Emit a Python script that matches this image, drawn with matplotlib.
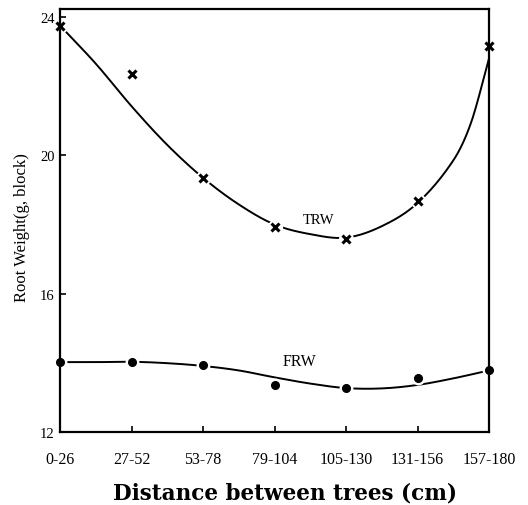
import numpy as np
import matplotlib
matplotlib.use("Agg")
import matplotlib.pyplot as plt

# ---- data ----
categories = ["0-26", "27-52", "53-78", "79-104", "105-130", "131-156", "157-180"]
trw_values = [23.75, 22.35, 19.35, 17.93, 17.58, 18.68, 23.16]
frw_values = [14.02, 14.02, 13.94, 13.36, 13.27, 13.56, 13.79]

# fitted curves as drawn in the picture (knots along the category axis)
trw_curve_pos = [0, 0.5, 1, 1.5, 2, 2.5, 3, 3.5, 4, 4.5, 5, 5.5, 5.75, 6]
trw_curve_val = [23.75, 22.65, 21.42, 20.3, 19.35, 18.58, 18.0, 17.72, 17.62, 17.95, 18.62, 19.85, 20.95, 22.8]
frw_curve_pos = [0, 0.5, 1, 1.5, 2, 2.5, 3, 3.5, 4, 4.5, 5, 5.5, 6]
frw_curve_val = [14.02, 14.02, 14.03, 13.99, 13.91, 13.78, 13.58, 13.40, 13.27, 13.26, 13.36, 13.55, 13.78]

yticks = [12, 16, 20, 24]


def smooth(xs, ys, n=20):
    xs = np.asarray(xs, float)
    ys = np.asarray(ys, float)
    # Hermite spline with Catmull-Rom style tangents (non-uniform)
    m = np.zeros_like(ys)
    m[1:-1] = (ys[2:] - ys[:-2]) / (xs[2:] - xs[:-2])
    m[0] = (ys[1] - ys[0]) / (xs[1] - xs[0])
    m[-1] = (ys[-1] - ys[-2]) / (xs[-1] - xs[-2])
    ox, oy = [], []
    for i in range(len(xs) - 1):
        h = xs[i + 1] - xs[i]
        t = np.linspace(0, 1, n, endpoint=False)
        h00 = 2 * t**3 - 3 * t**2 + 1
        h10 = t**3 - 2 * t**2 + t
        h01 = -2 * t**3 + 3 * t**2
        h11 = t**3 - t**2
        ox.extend(xs[i] + t * h)
        oy.extend(h00 * ys[i] + h10 * h * m[i] + h01 * ys[i + 1] + h11 * h * m[i + 1])
    ox.append(xs[-1])
    oy.append(ys[-1])
    return np.array(ox), np.array(oy)


fig = plt.figure(figsize=(5.28, 5.06), dpi=100)
ax = fig.add_axes([60 / 528, 1 - 433 / 506, 429 / 528, 423 / 506])

serif = "Liberation Serif"
x = np.arange(len(categories))

cx, cy = smooth(trw_curve_pos, trw_curve_val)
ax.plot(cx, cy, color="black", lw=1.4, zorder=2, clip_on=False)
cx, cy = smooth(frw_curve_pos, frw_curve_val)
ax.plot(cx, cy, color="black", lw=1.4, zorder=2, clip_on=False)

# white halo behind markers (gaps in the drawn curves)
ax.plot(x, trw_values, ls="none", marker="o", ms=11, mfc="white", mec="none", zorder=2.2, clip_on=False)
ax.plot(x, frw_values, ls="none", marker="o", ms=10, mfc="white", mec="none", zorder=2.2, clip_on=False)
ax.plot(x, trw_values, ls="none", marker="x", ms=6, mew=2.2, color="black", zorder=4, clip_on=False)
ax.plot(x, frw_values, ls="none", marker="o", ms=5.5, color="black", zorder=4, clip_on=False)

ax.text(3.62, 18.13, "TRW", family=serif, fontsize=10.5, ha="center", va="center")
ax.text(3.35, 14.05, "FRW", family=serif, fontsize=11.5, ha="center", va="center")

ax.set_xlim(0, 6)
ax.set_ylim(12, 24.23)
ax.set_xticks(x)
ax.set_xticklabels(categories, family=serif, fontsize=11.5)
ax.set_yticks(yticks)
ax.set_yticklabels([str(v) for v in yticks], family=serif, fontsize=10.5)
ax.tick_params(axis="x", direction="in", length=4, width=1.2, pad=14)
ax.tick_params(axis="y", direction="in", length=4, width=1.2, pad=4)
for s in ax.spines.values():
    s.set_linewidth(1.6)
    s.set_zorder(3)

fig.text(285 / 528, 1 - 494 / 506, "Distance between trees (cm)", family="DejaVu Serif",
         fontweight="bold", fontsize=15.5, ha="center", va="center")
fig.text(22 / 528, 1 - 228 / 506, "Root Weight(g, block)", family=serif,
         fontsize=12, rotation=90, ha="center", va="center")

fig.savefig("out.png", dpi=100)
